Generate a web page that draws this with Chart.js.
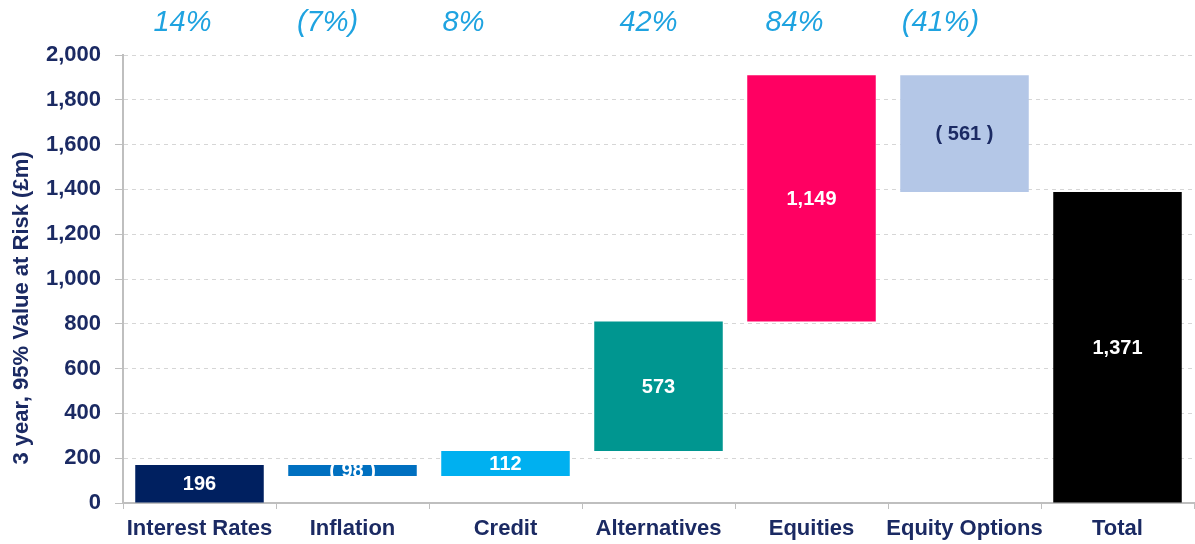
<!DOCTYPE html>
<html>
<head>
<meta charset="utf-8">
<script src="https://cdn.jsdelivr.net/npm/chart.js@4"></script>
<style>
  html, body { margin: 0; padding: 0; background: #fff; }
  #wrap { width: 1195px; height: 544px; }
</style>
</head>
<body>
<div id="wrap"><canvas id="myChart"></canvas></div>
<script>
const categories = ['Interest Rates', 'Inflation', 'Credit', 'Alternatives', 'Equities', 'Equity Options', 'Total'];
// floating bar ends as drawn on the picture
const barStart = [0, 121, 121, 232, 810, 1388, 0];
const barEnd = [170, 170, 232, 810, 1910, 1910, 1388];
const barLabels = ['196', '( 98 )', '112', '573', '1,149', '( 561 )', '1,371'];
const shareLabels = ['14%', '(7%)', '8%', '42%', '84%', '(41%)', ''];
const yTicks = [0, 200, 400, 600, 800, 1000, 1200, 1400, 1600, 1800, 2000];
const yTitle = '3 year, 95% Value at Risk (£m)';

const navy = '#1B2A63';
const font = "'Liberation Sans', Arial, sans-serif";
const barColors = ['#002060', '#0070C0', '#00B0F0', '#009690', '#FF0062', '#B4C7E7', '#000000'];
const labelColors = ['#fff', '#fff', '#fff', '#fff', '#fff', navy, '#fff'];

// draws the value inside each bar, the share above each column and the axis title
const labelPlugin = {
    id: 'labels',
    afterDatasetsDraw(chart) {
        const ctx = chart.ctx;
        const meta = chart.getDatasetMeta(0);
        const nudge = [-17, -25, -42, -10, -17, -24, 0];
        ctx.save();
        ctx.textAlign = 'center';
        ctx.textBaseline = 'middle';
        meta.data.forEach(function (bar, i) {
            const p = bar.getProps(['x', 'y', 'base'], true);
            ctx.fillStyle = labelColors[i];
            ctx.font = 'bold 20px ' + font;
            ctx.fillText(barLabels[i], p.x, (p.y + p.base) / 2 + 1);
            ctx.fillStyle = '#1FA3E0';
            ctx.font = 'italic 29px ' + font;
            ctx.fillText(shareLabels[i], p.x + nudge[i], 23);
        });
        ctx.translate(22, 308);
        ctx.rotate(-Math.PI / 2);
        ctx.fillStyle = navy;
        ctx.font = 'bold 22px ' + font;
        ctx.fillText(yTitle, 0, 0);
        ctx.restore();
    }
};

new Chart(document.getElementById('myChart'), {
    type: 'bar',
    data: {
        labels: categories,
        datasets: [{
            data: categories.map((c, i) => [barStart[i], barEnd[i]]),
            backgroundColor: barColors,
            borderWidth: 0,
            categoryPercentage: 1,
            barPercentage: 0.84
        }]
    },
    options: {
        responsive: true,
        maintainAspectRatio: false,
        animation: false,
        layout: { padding: { top: 55, left: 8, right: 1, bottom: 0 } },
        plugins: {
            legend: { display: false },
            tooltip: { enabled: false }
        },
        scales: {
            x: {
                grid: { drawOnChartArea: false, offset: true, tickLength: 6, color: '#BFBFBF' },
                border: { color: '#BFBFBF', width: 2 },
                ticks: {
                    color: navy,
                    padding: 7,
                    maxRotation: 0,
                    minRotation: 0,
                    autoSkip: false,
                    font: { family: font, size: 22, weight: 'bold' }
                },
                afterFit: s => { s.height = 41; }
            },
            y: {
                min: 0,
                max: 2000,
                afterBuildTicks: s => { s.ticks = yTicks.map(v => ({ value: v })); },
                grid: { color: '#D6D6D6', tickLength: 8, tickBorderDash: [], tickColor: '#BFBFBF' },
                border: { color: '#BFBFBF', width: 2, dash: [4, 4] },
                ticks: {
                    color: navy,
                    padding: 14,
                    font: { family: font, size: 22, weight: 'bold' },
                    callback: v => v.toLocaleString('en-GB')
                },
                afterFit: s => { s.width = 115; }
            }
        }
    },
    plugins: [labelPlugin]
});
</script>
</body>
</html>
